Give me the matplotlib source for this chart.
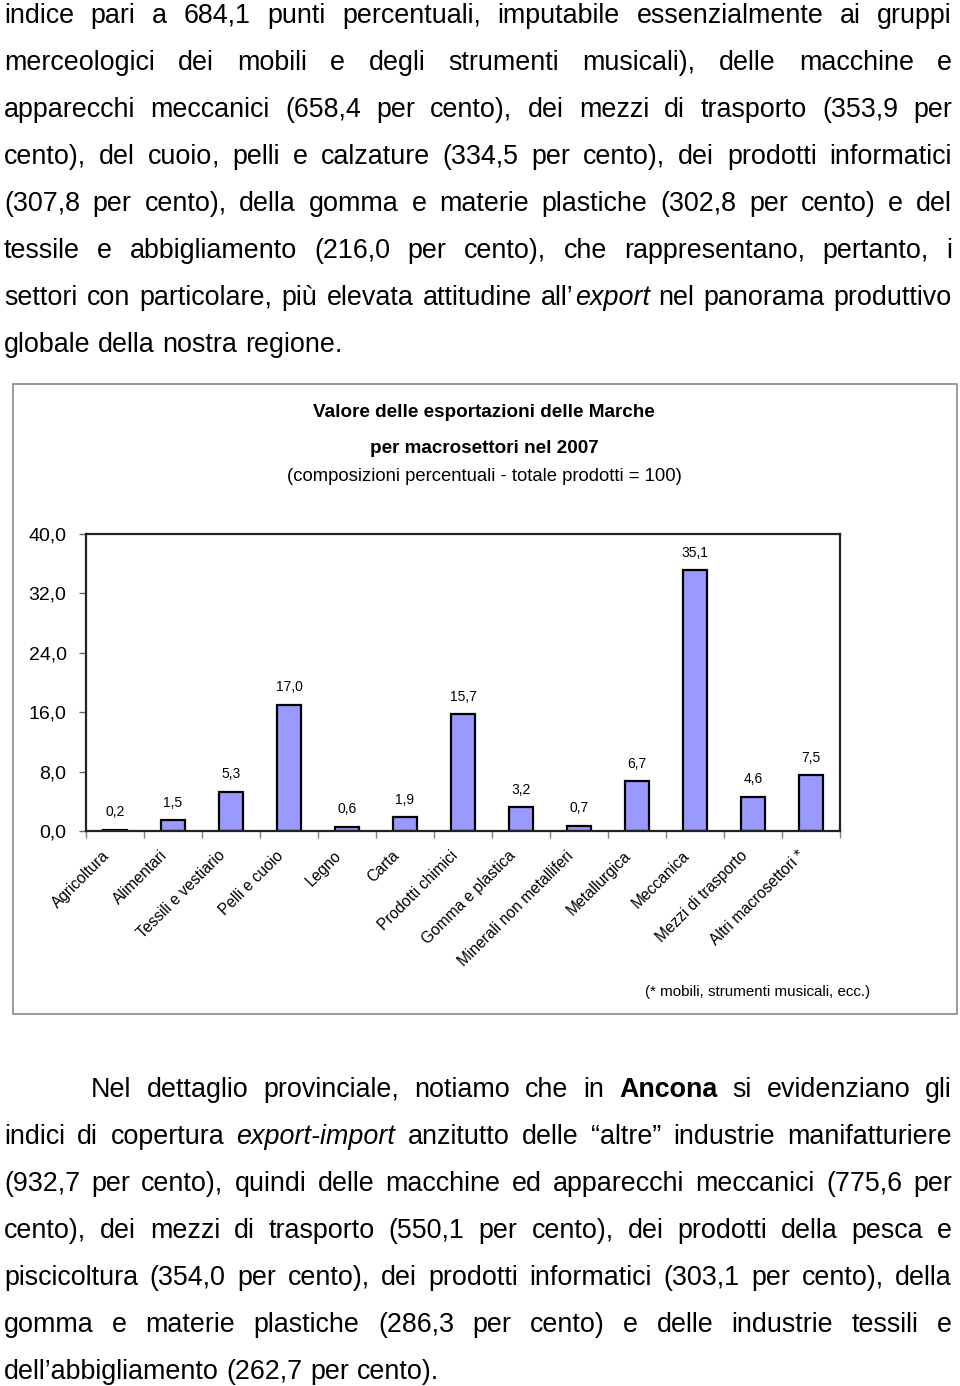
import matplotlib
matplotlib.use('Agg')
import matplotlib.pyplot as plt
import matplotlib.transforms as mtransforms
from matplotlib.patches import Rectangle
import numpy as np

# ---------------- data ----------------
categories = ["Agricoltura", "Alimentari", "Tessili e vestiario", "Pelli e cuoio",
              "Legno", "Carta", "Prodotti chimici", "Gomma e plastica",
              "Minerali non metalliferi", "Metallurgica", "Meccanica",
              "Mezzi di trasporto", "Altri macrosettori *"]
values = [0.2, 1.5, 5.3, 17.0, 0.6, 1.9, 15.7, 3.2, 0.7, 6.7, 35.1, 4.6, 7.5]
ytick_values = [0, 8, 16, 24, 32, 40]
ytick_labels = ["0,0", "8,0", "16,0", "24,0", "32,0", "40,0"]

title_lines = ["Valore delle esportazioni delle Marche",
               "per macrosettori nel 2007"]
subtitle = "(composizioni percentuali - totale prodotti = 100)"
footnote = "(* mobili, strumenti musicali, ecc.)"

# markup: _italic_  ^bold^
para_top = [
    "indice pari a 684,1 punti percentuali, imputabile essenzialmente ai gruppi",
    "merceologici dei mobili e degli strumenti musicali), delle macchine e",
    "apparecchi meccanici (658,4 per cento), dei mezzi di trasporto (353,9 per",
    "cento), del cuoio, pelli e calzature (334,5 per cento), dei prodotti informatici",
    "(307,8 per cento), della gomma e materie plastiche (302,8 per cento) e del",
    "tessile e abbigliamento (216,0 per cento), che rappresentano, pertanto, i",
    "settori con particolare, più elevata attitudine all\u2019_export_ nel panorama produttivo",
    "globale della nostra regione.",
]
para_bottom = [
    "Nel dettaglio provinciale, notiamo che in ^Ancona^ si evidenziano gli",
    "indici di copertura _export-import_ anzitutto delle \u201caltre\u201d industrie manifatturiere",
    "(932,7 per cento), quindi delle macchine ed apparecchi meccanici (775,6 per",
    "cento), dei mezzi di trasporto (550,1 per cento), dei prodotti della pesca e",
    "piscicoltura (354,0 per cento), dei prodotti informatici (303,1 per cento), della",
    "gomma e materie plastiche (286,3 per cento) e delle industrie tessili e",
    "dell\u2019abbigliamento (262,7 per cento).",
]

FONT = 'Liberation Sans'
BODY_FS = 19.4

W, H = 960, 1386
fig = plt.figure(figsize=(W / 100, H / 100), dpi=100)
tax = fig.add_axes([0, 0, 1, 1])
tax.set_xlim(0, W)
tax.set_ylim(H, 0)
tax.axis('off')
renderer = fig.canvas.get_renderer()

STYLES = {'n': {}, 'i': {'style': 'italic'}, 'b': {'weight': 'bold'}}
DESC = set('gjpqy()Q,;')


def parse_words(line):
    words = []
    cur = []
    buf = ''
    st = 'n'
    for ch in line:
        if ch == '_' or ch == '^':
            if buf:
                cur.append((buf, st))
                buf = ''
            tgt = 'i' if ch == '_' else 'b'
            st = 'n' if st == tgt else tgt
        elif ch == ' ':
            if buf:
                cur.append((buf, st))
                buf = ''
            if cur:
                words.append(cur)
                cur = []
        else:
            buf += ch
    if buf:
        cur.append((buf, st))
    if cur:
        words.append(cur)
    return words


def seg_width(text, st):
    t = tax.text(0, 0, text, fontsize=BODY_FS, family=FONT, **STYLES[st])
    w = t.get_window_extent(renderer).width
    t.remove()
    return w


def put(x, y, s, st):
    tax.text(x, y, s, fontsize=BODY_FS, family=FONT, va='baseline',
             ha='left', **STYLES[st])


def draw_segment(x, y, s, st, sw):
    # keep baseline consistent: split a trailing comma off words without descenders
    core = s[:-1]
    if s.endswith(',') and core and not (set(core) & DESC):
        pw = seg_width(',', st)
        put(x, y, core, st)
        put(x + sw - pw, y, ',', st)
    else:
        put(x, y, s, st)


def draw_paragraph(lines, y0, dy, left, right, indent=0):
    space_w = seg_width('a a', 'n') - 2 * seg_width('a', 'n')
    for k, line in enumerate(lines):
        words = parse_words(line)
        x_start = left + (indent if k == 0 else 0)
        widths = [[seg_width(s, st) for s, st in w] for w in words]
        totals = [sum(ws) for ws in widths]
        last = (k == len(lines) - 1)
        if last or len(words) < 2:
            gap = space_w
        else:
            gap = (right - x_start - sum(totals)) / (len(words) - 1)
        x = x_start
        y = y0 + k * dy
        for w, ws, tot in zip(words, widths, totals):
            xx = x
            for (s, st), sw in zip(w, ws):
                draw_segment(xx, y, s, st, sw)
                xx += sw + 1
            x += tot + gap


draw_paragraph(para_top, 23, 47, 4, 952)
draw_paragraph(para_bottom, 1097, 47, 4, 952, indent=87)

# chart frame
tax.add_patch(Rectangle((13, 384), 944, 630, fill=False, edgecolor='#8a8a8a', lw=1.2))
tax.text(484, 417, title_lines[0], fontsize=13.6, family=FONT, weight='bold',
         ha='center', va='baseline')
tax.text(484, 453, title_lines[1], fontsize=13.6, family=FONT, weight='bold',
         ha='center', va='baseline')
tax.text(484, 481, subtitle, fontsize=13.3, family=FONT, ha='center', va='baseline')
tax.text(645, 996, footnote, fontsize=10.9, family=FONT, ha='left', va='baseline')

# chart axes
ax = fig.add_axes([86 / W, (H - 831) / H, 754 / W, 297 / H])
x = np.arange(len(values))
bars = ax.bar(x, values, width=0.41, color='#9999FF', edgecolor='black', linewidth=1.6)
ax.set_xlim(-0.5, len(values) - 0.5)
ax.set_ylim(0, 40)
ax.set_yticks(ytick_values)
ax.set_yticklabels(ytick_labels, fontsize=14, family=FONT)
ax.tick_params(axis='y', length=5, width=1, pad=9, color='#666666')
for s in ax.spines.values():
    s.set_linewidth(1.6)
    s.set_color('#222222')

ax.set_xticks(x)
ax.set_xticklabels(categories, rotation=45, ha='right', va='center',
                   rotation_mode='anchor', fontsize=11.2, family=FONT)
ax.tick_params(axis='x', which='major', length=0, pad=16)
ax.set_xticks(np.arange(-0.5, len(values)), minor=True)
ax.tick_params(axis='x', which='minor', length=5, width=1, color='#808080')
off = mtransforms.ScaledTranslation(-8 / 100, 0, fig.dpi_scale_trans)
for lab in ax.get_xticklabels():
    lab.set_transform(lab.get_transform() + off)

for xi, v in zip(x, values):
    ax.annotate(f"{v:.1f}".replace('.', ','), (xi, v), xytext=(0, 12.5),
                textcoords='offset points', ha='center', va='center',
                fontsize=10, family=FONT)

fig.savefig('out.png', dpi=100)
